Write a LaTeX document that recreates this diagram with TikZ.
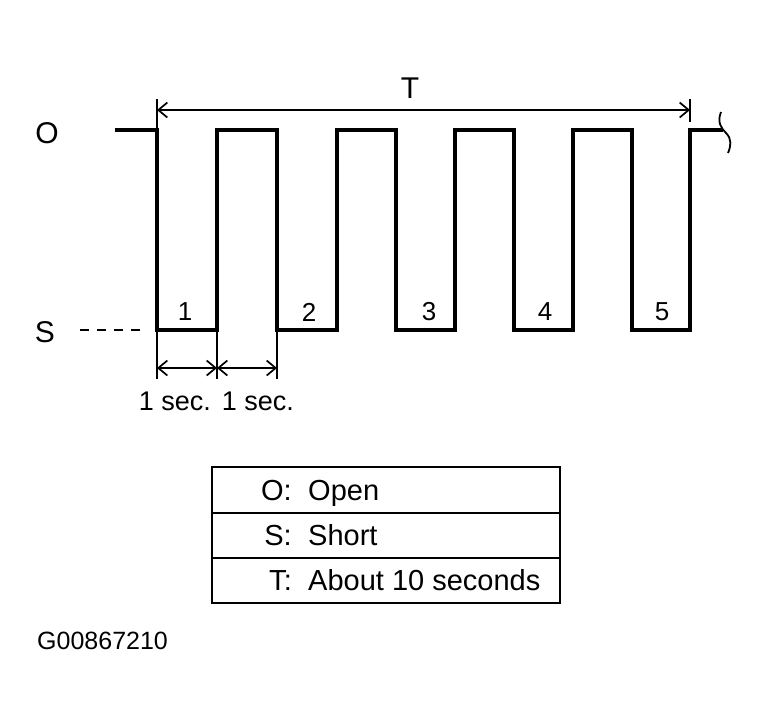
\documentclass[tikz,border=0pt]{standalone}
\usepackage{fontspec}
\setmainfont{Liberation Sans}
\usetikzlibrary{arrows.meta}
\begin{document}
\begin{tikzpicture}[x=1pt,y=-1pt,
  wave/.style={line width=3.2pt,line join=miter},
  dim/.style={line width=1.7pt},
  barb/.style={{Straight Barb[length=9pt,width=15pt,line width=1.7pt]}-{Straight Barb[length=9pt,width=15pt,line width=1.7pt]}},
  lbl/.style={inner sep=0pt,font=\fontsize{30}{33}\selectfont},
  sec/.style={inner sep=0pt,font=\fontsize{27}{30}\selectfont},
  num/.style={inner sep=0pt,font=\fontsize{26}{29}\selectfont},
  tbl/.style={inner sep=0pt,font=\fontsize{29}{32}\selectfont}]
\useasboundingbox (0,0) rectangle (769,726);
% waveform
\coordinate (w0) at (115,130);
\draw[wave] (w0) -- (157,130) -- (157,330) -- (217,330) -- (217,130) -- (277,130)
  -- (277,330) -- (337,330) -- (337,130) -- (396,130) -- (396,330) -- (455,330)
  -- (455,130) -- (514,130) -- (514,330) -- (573,330) -- (573,130) -- (632,130)
  -- (632,330) -- (690,330) -- (690,130) -- (723,130) coordinate (wend);
\draw[line width=1.8pt] (721,112) .. controls (717,122) and (721,128) .. (726,133)
  .. controls (732,139) and (731,146) .. (728,153);
% level labels
\node[lbl] (O) at (47,133) {O};
\node[lbl] (S) at (45,332) {S};
\draw[line width=2.6pt,dash pattern=on 9pt off 8pt] (80,330) -- (143,330);
% T dimension
\coordinate (tl) at (157,110);
\coordinate (tr) at (690,110);
\draw[dim] (157,99) -- (157,130);
\draw[dim] (690,99) -- (690,122);
\draw[dim,barb] (tl) -- (tr);
\node[lbl] (T) at (410,88) {T};
% pulse numbers
\node[num] (n1) at (185,312) {1};
\node[num] (n2) at (309,312) {2};
\node[num] (n3) at (429,312) {3};
\node[num] (n4) at (545,312) {4};
\node[num] (n5) at (662,312) {5};
% 1 sec dimensions
\draw[dim] (157,330) -- (157,379);
\draw[dim] (217,330) -- (217,379);
\draw[dim] (277,330) -- (277,379);
\coordinate (a0) at (157,368);
\coordinate (a1) at (217,368);
\coordinate (a2) at (277,368);
\draw[dim,barb] (a0) -- (a1);
\draw[dim,barb] (a1) -- (a2);
\node[sec,anchor=base] (s1) at (175,410) {1 sec.};
\node[sec,anchor=base] (s2) at (258,410) {1 sec.};
% table
\draw[line width=2pt] (212,467) rectangle (560,603);
\draw[line width=2pt] (212,513) -- (560,513);
\draw[line width=2pt] (212,558) -- (560,558);
\node[tbl,anchor=base east] (k1) at (292,500) {O:};
\node[tbl,anchor=base west] (v1) at (308,500) {Open};
\node[tbl,anchor=base east] (k2) at (292,545) {S:};
\node[tbl,anchor=base west] (v2) at (308,545) {Short};
\node[tbl,anchor=base east] (k3) at (292,590) {T:};
\node[tbl,anchor=base west] (v3) at (308,590) {About 10 seconds};
% figure id
\node[inner sep=0pt,anchor=base west,font=\fontsize{25}{28}\selectfont] (id) at (37,649) {G00867210};
\end{tikzpicture}
\end{document}
